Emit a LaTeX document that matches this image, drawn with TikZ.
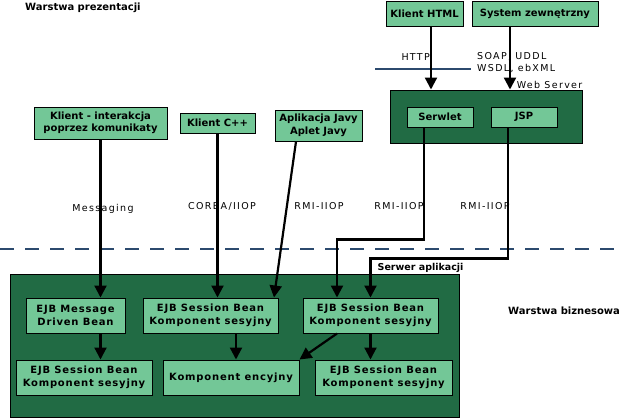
\documentclass[tikz,border=0pt]{standalone}
\usepackage{fontspec}
\setmainfont{DejaVu Sans}
\newfontfamily\protofont[LetterSpace=14]{DejaVu Sans}
\newfontfamily\ejbfont[LetterSpace=8]{DejaVu Sans}
\usepackage{xcolor}
\usepackage{tikz}
\usetikzlibrary{arrows.meta, positioning, calc}
\definecolor{jasnozielony}{RGB}{115,199,151}
\definecolor{ciemnozielony}{RGB}{33,107,68}
\definecolor{granat}{RGB}{44,74,110}
\tikzstyle{box} = [rectangle, draw=black, fill=jasnozielony, line width=1pt, align=center, inner sep=0pt, font=\bfseries\fontsize{10}{12.5}\selectfont]
\tikzstyle{ejb} = [box, font=\ejbfont\bfseries\fontsize{10}{12.5}\selectfont]
\tikzstyle{server} = [rectangle, draw=black, fill=ciemnozielony, line width=1pt]
\tikzstyle{arrow} = [line width=2.2pt, -{Triangle[width=12pt,length=12pt]}]
\tikzstyle{protocol} = [font=\protofont\fontsize{9.5}{12}\selectfont, inner sep=0pt]
\tikzstyle{warstwa} = [font=\bfseries\fontsize{10}{12}\selectfont, anchor=west, inner sep=0pt]

\begin{document}
\begin{tikzpicture}[x=1pt, y=-1pt]
    \useasboundingbox (0,0) rectangle (633,418);

    % Warstwa prezentacji
    \node (prez) [warstwa] at (25,8) {Warstwa prezentacji};
    \node (html) [box, minimum width=77, minimum height=25] at (424.5,13.5) {Klient HTML};
    \node (system) [box, minimum width=126, minimum height=25] at (535,13.5) {System zewnętrzny};
    \node (komunikaty) [box, minimum width=133, minimum height=32] at (100.5,123) {Klient - interakcja\\poprzez komunikaty};
    \node (cpp) [box, minimum width=75, minimum height=20] at (217.5,123) {Klient C++};
    \node (aplet) [box, minimum width=87, minimum height=31] at (318.5,125.5) {Aplikacja Javy\\Aplet Javy};

    % Web Server
    \node (web) [server, minimum width=192, minimum height=53] at (486,116.5) {};
    \node (webtxt) [protocol, anchor=south east, yshift=1] at (web.north east) {Web Server};
    \node (serwlet) [box, minimum width=66, minimum height=20] at (440,117) {Serwlet};
    \node (jsp) [box, minimum width=66, minimum height=20] at (524,117) {JSP};

    % Serwer aplikacji
    \node (app) [server, minimum width=449, minimum height=143] at (234.5,345.5) {};
    \node (apptxt) [warstwa, anchor=south west, font=\bfseries\fontsize{9.5}{12}\selectfont, yshift=1] at ([xshift=-82]app.north east) {Serwer aplikacji};
    \node (biznes) [warstwa] at (508,311) {Warstwa biznesowa};
    \node (mdb) [ejb, minimum width=99, minimum height=35] at (75.5,315.5) {EJB Message\\Driven Bean};
    \node (sb1) [ejb, minimum width=135, minimum height=35] at (210.5,315.5) {EJB Session Bean\\Komponent sesyjny};
    \node (sb2) [ejb, minimum width=135, minimum height=35] at (370.5,315.5) {EJB Session Bean\\Komponent sesyjny};
    \node (sb3) [ejb, minimum width=136, minimum height=35] at (84,377.5) {EJB Session Bean\\Komponent sesyjny};
    \node (encja) [ejb, minimum width=136, minimum height=35] at (231,377.5) {Komponent encyjny};
    \node (sb4) [ejb, minimum width=137, minimum height=35] at (383.5,377.5) {EJB Session Bean\\Komponent sesyjny};

    % granice warstw
    \draw [granat, line width=2pt, dash pattern=on 14pt off 11pt] (0,249) -- (622,249);
    \draw [granat, line width=2pt] (375,69) -- (471,69);

    % Protokoly
    \node (http) [protocol, anchor=east] at (430,57) {HTTP};
    \node (soap) [protocol, anchor=west, align=left] at (477,63) {SOAP, UDDL\\WSDL, ebXML};
    \node (msg) [protocol] at (103,209) {Messaging};
    \node (corba) [protocol] at (222,206) {CORBA/IIOP};
    \node (rmi1) [protocol] at (319,206) {RMI-IIOP};
    \node (rmi2) [protocol] at (399,206) {RMI-IIOP};
    \node (rmi3) [protocol] at (485,206) {RMI-IIOP};

    % Strzalki
    \draw [arrow] ([xshift=6.5]html.south) -- ([xshift=6.5]html.south |- web.north);
    \draw [arrow] ([xshift=-25]system.south) -- ([xshift=-25]system.south |- web.north);
    \draw [arrow] (komunikaty.south) -- (komunikaty.south |- mdb.north);
    \draw [arrow] (cpp.south) -- (cpp.south |- sb1.north);
    \draw [arrow] ([xshift=-22.5]aplet.south) -- ([xshift=63.5]sb1.north);
    \draw [arrow] ([xshift=-16]serwlet.south) -- ++(0,112) -| ([xshift=-33.5]sb2.north);
    \draw [arrow] ([xshift=-16]jsp.south) -- ++(0,131) -| (sb2.north);

    \draw [arrow] (komunikaty.south |- mdb.south) -- (komunikaty.south |- sb3.north);
    \draw [arrow] ([xshift=25.5]sb1.south) -- ([xshift=25.5]sb1.south |- encja.north);
    \draw [arrow] (sb2.south) -- (sb2.south |- sb4.north);
    \draw [arrow] ([xshift=-33.5]sb2.south) -- (encja.north east);

\end{tikzpicture}
\end{document}
